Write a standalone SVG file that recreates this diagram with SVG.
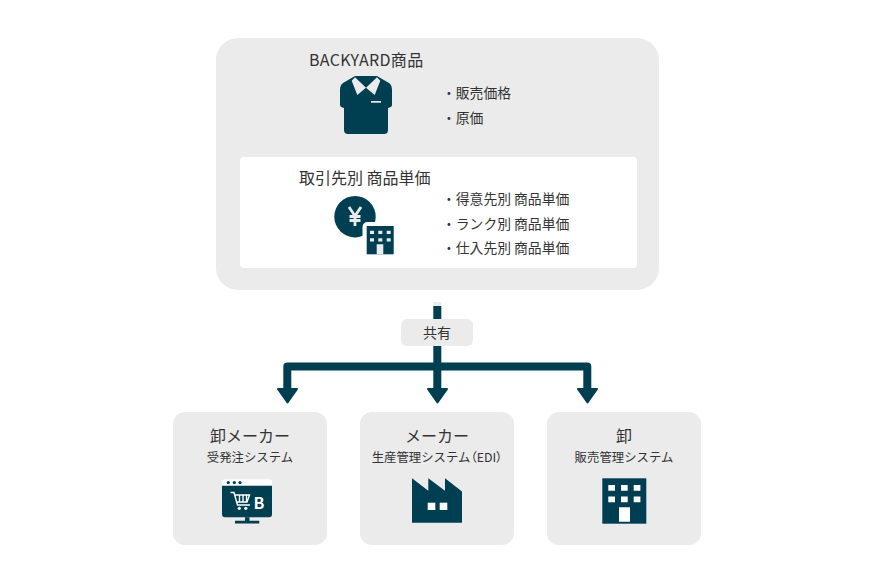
<svg xmlns="http://www.w3.org/2000/svg" width="880" height="586" viewBox="0 0 880 586">
<style>
text{font-family:"Noto Sans CJK JP","Noto Sans",sans-serif;fill:#333}
.t{font-size:16px}
.b{font-size:13.800px}
.s{font-size:12.400px}
.m{text-anchor:middle}
.p{font-feature-settings:"palt"}
.d{fill:#003e52}
.w{fill:#fff}
.g{fill:#ebebeb}
.l{fill:none;stroke:#003e52;stroke-width:8;stroke-linejoin:round}
.h{fill:#003e52;stroke:#003e52;stroke-width:2;stroke-linejoin:round}
</style>
<rect width="880" height="586" fill="#fff"/>
<g id="connectors">
<rect x="433.300" y="302" width="8" height="4" rx="1" class="g"/>
<path class="l" d="M437.300 306V388M287.300 388V366.500H587.300V388"/>
<path class="h" d="M278 389H297L287.500 402.500ZM428 389H447L437.500 402.500ZM578 389H597L587.500 402.500Z"/>
</g>
<g id="backyard">
<rect x="216" y="38" width="443" height="252" rx="22" class="g"/>
<text x="309" y="65.500" class="t" letter-spacing=".3">BACKYARD商品</text>
<g id="shirt-icon">
<path class="d" d="M355 76H377L389 83Q392 85 392 90V105Q392 107 388 108V130Q388 134 384 134H348Q344 134 344 130V108Q340 107 340 105V90Q340 85 343 83Z"/>
<path class="g" d="M351.700 80.700L355 77.300L366 87.700L357.300 95ZM380.300 80.700L377 77.300L366 87.700L374.700 95Z"/>
<rect x="371" y="101" width="10" height="1.700" class="g"/>
</g>
<text x="442" y="98" class="b">・販売価格</text>
<text x="442" y="122.500" class="b">・原価</text>
</g>
<g id="unit-price">
<rect x="240" y="157" width="397" height="111" rx="4" class="w"/>
<text x="299" y="184" class="t">取引先別 商品単価</text>
<g id="yen-icon">
<circle cx="355" cy="216.700" r="20.700" class="d"/>
<rect x="362.500" y="222" width="32" height="33" rx="5" class="w"/>
<path d="M349 207L355 216L361 207M355 216V226M349.500 216.500H360.500M349.500 220.500H360.500" fill="none" stroke="#ebebeb" stroke-width="2.800"/>
<rect x="366.700" y="226" width="27" height="28.300" class="d"/>
<path class="g" d="M370 230.700h4v3.300h-4zM378.300 230.700h4v3.300h-4zM386.700 230.700h4v3.300h-4zM370 238.300h4v3.300h-4zM378.300 238.300h4v3.300h-4zM386.700 238.300h4v3.300h-4zM376.700 244.300h6.600v10h-6.600z"/>
</g>
<text x="442" y="204" class="b">・得意先別 商品単価</text>
<text x="442" y="229" class="b">・ランク別 商品単価</text>
<text x="442" y="253" class="b">・仕入先別 商品単価</text>
</g>
<g id="share-label">
<rect x="401" y="319" width="72" height="27" rx="6" class="g"/>
<text x="437" y="337.500" class="m" font-size="14">共有</text>
</g>
<g id="node-oroshi-maker">
<rect x="173" y="412" width="154" height="133" rx="12" class="g"/>
<text x="250" y="441.500" class="t m">卸メーカー</text>
<text x="250" y="461.500" class="s m">受発注システム</text>
<g id="monitor-icon">
<path class="w" d="M222 485.700V482Q222 479.300 225 479.300H269Q272 479.300 272 482V485.700Z"/>
<path class="d" d="M222 485.700H272V514Q272 517.300 269 517.300H225Q222 517.300 222 514Z"/>
<path class="d" d="M245 517.300H249.500V520.700H259.300V523.500H235V520.700H245Z"/>
<circle cx="228.300" cy="482.600" r="1.600" class="d"/><circle cx="234.300" cy="482.600" r="1.600" class="d"/><circle cx="240" cy="482.600" r="1.600" class="d"/>
<path d="M230.500 492.500H234L237.500 505H250M235 495H249.500L247 502H236.500M239.500 495V502M243 495V502M246.500 495V502" fill="none" stroke="#fff" stroke-width="1.400"/>
<circle cx="239.300" cy="508.300" r="1.600" class="w"/><circle cx="245.800" cy="508.300" r="1.600" class="w"/>
<text x="253.500" y="509" font-size="16" font-weight="700" style="fill:#fff">B</text>
</g>
</g>
<g id="node-maker">
<rect x="360" y="412" width="154" height="133" rx="12" class="g"/>
<text x="437" y="441.500" class="t m">メーカー</text>
<text x="437" y="461.500" class="s m">生産管理システム<tspan class="p">（</tspan>EDI<tspan class="p">）</tspan></text>
<g id="factory-icon">
<path class="d" d="M412 478.300L428.300 490.700V478.300L445 490.700V478.300L462 491.500V522.700H412Z"/>
<rect x="427.700" y="502.700" width="7.600" height="7.300" class="w"/>
<rect x="439.700" y="502.700" width="7.600" height="7.300" class="w"/>
</g>
</g>
<g id="node-oroshi">
<rect x="547" y="412" width="154" height="133" rx="12" class="g"/>
<text x="624" y="441.500" class="t m">卸</text>
<text x="624" y="461.500" class="s m">販売管理システム</text>
<g id="building-icon">
<rect x="602.300" y="478.300" width="44" height="45.400" class="d"/>
<path class="w" d="M608.300 485h6.700v5.700h-6.700zM621 485h6.700v5.700h-6.700zM633.700 485h6.700v5.700h-6.700zM608.300 496.500h6.700v5.700h-6.700zM621 496.500h6.700v5.700h-6.700zM633.700 496.500h6.700v5.700h-6.700zM619 507.300h11v14.400h-11z"/>
</g>
</g>
</svg>
